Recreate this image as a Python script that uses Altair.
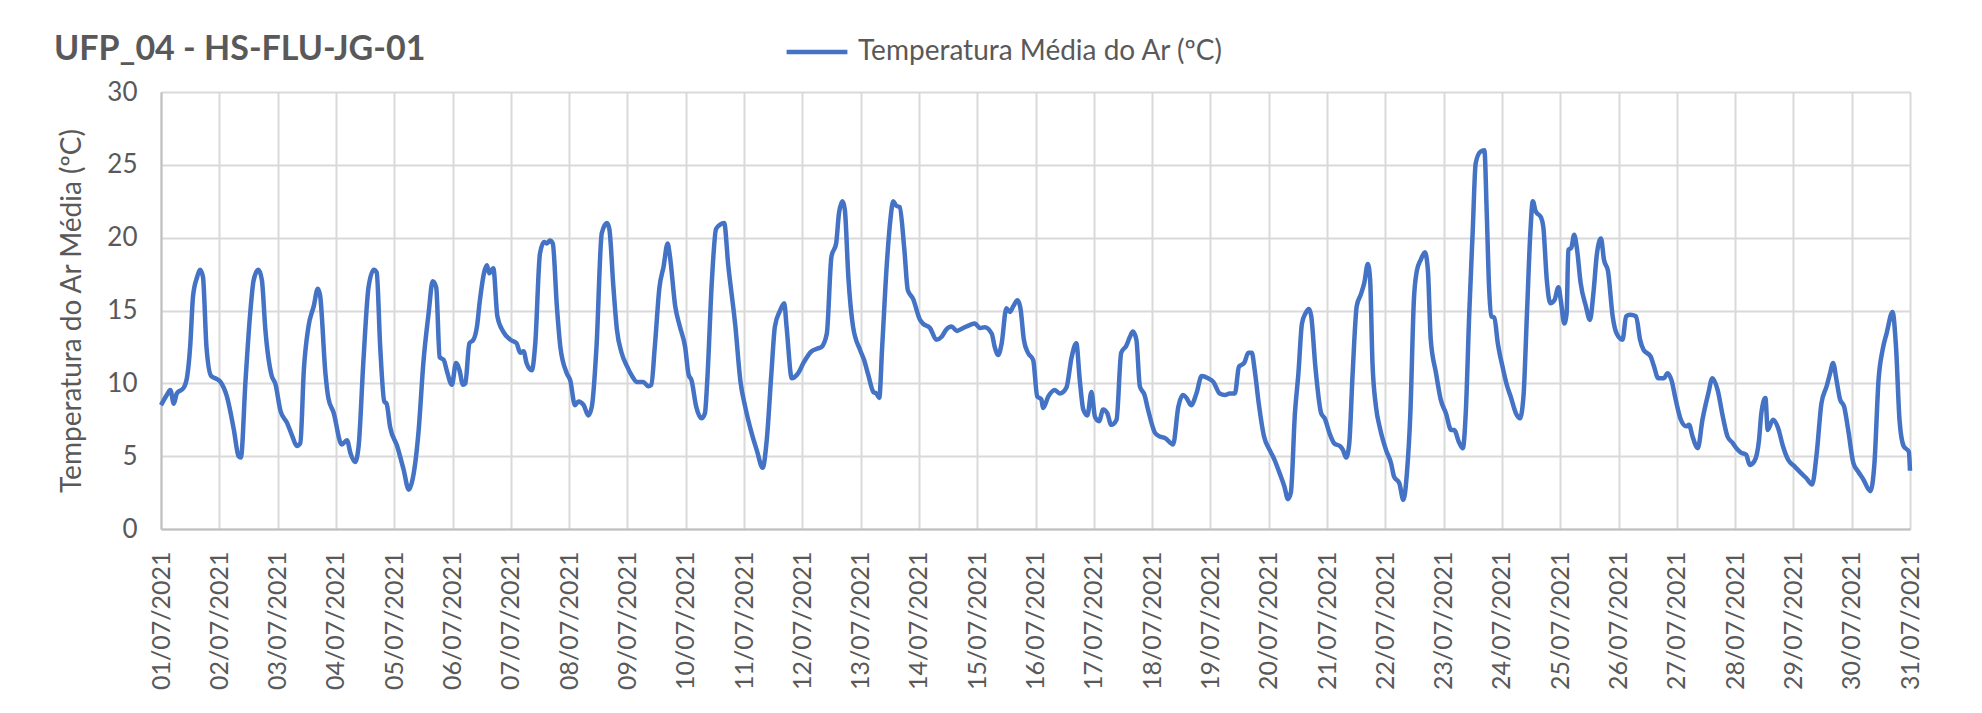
import altair as alt
import pandas as pd

series_name = "Temperatura Média do Ar (ºC)"
chart_title = "UFP_04 - HS-FLU-JG-01"
y_title = "Temperatura do Ar Média (ºC)"

# time in days since 01/07/2021 00:00
day_offsets = [
    0.00, 0.10, 0.16, 0.22, 0.27, 0.39, 0.45, 0.50, 0.55, 0.62, 0.67, 0.72, 0.78, 0.86, 0.93,
    1.02, 1.13, 1.25, 1.33, 1.37, 1.45, 1.53, 1.59, 1.67, 1.73, 1.79, 1.90, 1.96,
    2.05, 2.16, 2.25, 2.33, 2.39, 2.45, 2.53, 2.62, 2.69, 2.73, 2.82, 2.87, 2.96,
    3.10, 3.19, 3.25, 3.33, 3.39, 3.47, 3.56, 3.65, 3.70, 3.76, 3.83, 3.87, 3.93,
    4.05, 4.16, 4.25, 4.32, 4.42, 4.50, 4.59, 4.66, 4.72, 4.78, 4.85, 4.90, 4.99,
    5.06, 5.12, 5.18, 5.22, 5.29, 5.36, 5.42, 5.47, 5.59, 5.63, 5.70, 5.77, 5.87, 5.99,
    6.10, 6.16, 6.22, 6.27, 6.36, 6.42, 6.50, 6.57, 6.62, 6.67, 6.72, 6.79, 6.85, 6.96,
    7.02, 7.10, 7.16, 7.25, 7.33, 7.39, 7.47, 7.56, 7.65, 7.69, 7.76, 7.82, 7.90, 7.99,
    8.08, 8.16, 8.27, 8.36, 8.41, 8.47, 8.55, 8.62, 8.69, 8.73, 8.82, 8.90, 8.99,
    9.05, 9.10, 9.18, 9.27, 9.33, 9.37, 9.45, 9.52, 9.59, 9.66, 9.73, 9.85, 9.94,
    10.02, 10.13, 10.22, 10.32, 10.39, 10.47, 10.53, 10.62, 10.69, 10.73, 10.82, 10.93,
    11.02, 11.16, 11.27, 11.33, 11.42, 11.50, 11.58, 11.63, 11.69, 11.73, 11.79, 11.87, 11.99,
    12.06, 12.13, 12.22, 12.27, 12.32, 12.37, 12.45, 12.51, 12.56, 12.61, 12.67, 12.75, 12.81, 12.90,
    13.02, 13.07, 13.19, 13.30, 13.39, 13.47, 13.56, 13.65, 13.76, 13.87, 13.96,
    14.05, 14.13, 14.25, 14.30, 14.36, 14.42, 14.50, 14.56, 14.62, 14.69, 14.74, 14.80, 14.87, 14.96,
    15.03, 15.10, 15.13, 15.22, 15.33, 15.42, 15.53, 15.62, 15.70, 15.76, 15.82, 15.89, 15.96,
    16.02, 16.09, 16.16, 16.23, 16.30, 16.39, 16.47, 16.56, 16.62, 16.67, 16.73, 16.79, 16.87, 16.93,
    17.05, 17.13, 17.22, 17.36, 17.45, 17.53, 17.59, 17.67, 17.76, 17.85, 17.96,
    18.05, 18.16, 18.25, 18.33, 18.42, 18.49, 18.58, 18.65, 18.71, 18.76, 18.83, 18.92,
    19.02, 19.10, 19.19, 19.27, 19.33, 19.38, 19.45, 19.51, 19.57, 19.63, 19.69, 19.73, 19.80, 19.90, 19.96,
    20.05, 20.13, 20.22, 20.27, 20.33, 20.38, 20.44, 20.51, 20.58, 20.64, 20.70, 20.74, 20.78, 20.84, 20.91,
    21.01, 21.10, 21.15, 21.24, 21.31, 21.37, 21.43, 21.49, 21.54, 21.61, 21.68, 21.73, 21.78, 21.87, 21.95,
    22.04, 22.13, 22.18, 22.27, 22.33, 22.38, 22.44, 22.50, 22.55, 22.63, 22.70, 22.74, 22.78, 22.82, 22.87, 22.93,
    23.01, 23.09, 23.15, 23.24, 23.31, 23.37, 23.43, 23.49, 23.53, 23.58, 23.67, 23.71, 23.77, 23.83, 23.90, 23.97,
    24.01, 24.07, 24.11, 24.14, 24.19, 24.24, 24.29, 24.35, 24.44, 24.51, 24.57, 24.63, 24.70, 24.75, 24.82, 24.90, 24.97,
    25.07, 25.13, 25.20, 25.30, 25.37, 25.43, 25.55, 25.61, 25.68, 25.78, 25.84, 25.91, 25.98,
    26.07, 26.16, 26.21, 26.27, 26.36, 26.44, 26.54, 26.61, 26.70, 26.79, 26.87, 26.96,
    27.02, 27.10, 27.19, 27.25, 27.33, 27.41, 27.45, 27.52, 27.56, 27.65, 27.74, 27.82, 27.91,
    28.02, 28.14, 28.22, 28.32, 28.40, 28.48, 28.57, 28.63, 28.68, 28.74, 28.80, 28.87, 28.94,
    29.03, 29.11, 29.20, 29.32, 29.39, 29.46, 29.53, 29.60, 29.70, 29.76, 29.82, 29.89, 29.98, 30.00,
]

temperatures = [
    8.5, 9.2, 9.55, 8.6, 9.3, 9.7, 10.5, 12.5, 16.0, 17.3, 17.8, 17.3, 12.5, 10.5, 10.35,
    10.1, 9.1, 6.8, 5.0, 4.9, 10.2, 14.8, 17.1, 17.8, 17.1, 13.7, 10.5, 10.0,
    8.1, 7.3, 6.4, 5.7, 5.9, 10.9, 13.9, 15.3, 16.5, 16.0, 10.7, 9.0, 8.0,
    5.8, 6.1, 5.2, 4.6, 5.7, 11.4, 16.6, 17.8, 17.6, 12.5, 8.75, 8.6, 7.0,
    5.7, 4.1, 2.7, 3.5, 6.8, 11.4, 14.8, 17.0, 16.6, 11.8, 11.6, 10.9, 9.9,
    11.4, 10.9, 9.9, 10.0, 12.75, 13.0, 13.9, 15.7, 18.1, 17.55, 17.9, 14.6, 13.55, 13.0,
    12.75, 12.1, 12.2, 11.4, 10.9, 12.75, 18.9, 19.7, 19.6, 19.8, 19.6, 15.3, 12.5, 10.7,
    10.2, 8.5, 8.75, 8.5, 7.8, 8.4, 12.5, 20.3, 21.0, 20.6, 16.6, 13.7, 12.1, 11.2,
    10.5, 10.1, 10.1, 9.8, 9.9, 12.5, 16.6, 18.0, 19.6, 18.7, 15.3, 13.9, 12.5,
    10.6, 10.2, 8.4, 7.6, 7.95, 10.2, 17.1, 20.6, 20.9, 21.0, 18.1, 14.0, 10.1,
    8.4, 6.6, 5.4, 4.2, 6.1, 10.7, 13.9, 15.0, 15.5, 13.9, 10.35, 10.7,
    11.4, 12.2, 12.4, 12.5, 13.4, 18.7, 19.6, 21.7, 22.5, 21.9, 17.3, 13.9, 12.3,
    11.6, 10.6, 9.4, 9.3, 9.0, 12.5, 18.2, 21.2, 22.5, 22.2, 22.1, 19.2, 16.4, 15.8,
    14.35, 14.1, 13.8, 13.0, 13.2, 13.7, 13.9, 13.6, 13.8, 14.0, 14.1,
    13.8, 13.85, 13.4, 12.5, 11.95, 12.75, 15.15, 14.9, 15.3, 15.7, 15.2, 13.0, 12.1, 11.6,
    9.1, 8.9, 8.3, 9.1, 9.55, 9.3, 9.7, 11.8, 12.75, 10.2, 8.2, 7.8, 9.4,
    7.7, 7.4, 8.2, 7.95, 7.15, 7.5, 12.1, 12.6, 13.2, 13.55, 13.0, 9.8, 9.2, 8.2,
    6.6, 6.35, 6.25, 5.8, 8.4, 9.2, 9.0, 8.5, 9.3, 10.5, 10.35,
    10.1, 9.3, 9.2, 9.3, 9.3, 11.15, 11.4, 12.1, 12.1, 10.9, 8.6, 6.35,
    5.4, 4.75, 3.8, 2.9, 2.05, 2.5, 7.95, 10.7, 14.1, 14.8, 15.1, 14.6, 11.15, 7.95, 7.6,
    6.5, 5.85, 5.7, 5.45, 4.9, 5.8, 10.7, 15.3, 16.1, 16.9, 18.2, 17.1, 11.4, 8.4, 6.9,
    5.45, 4.5, 3.6, 3.15, 2.0, 3.8, 7.95, 15.7, 17.7, 18.5, 19.0, 17.8, 13.0, 10.7, 8.9,
    7.95, 6.8, 6.8, 5.9, 5.55, 7.95, 14.8, 20.5, 25.1, 25.9, 26.0, 21.7, 16.6, 14.6, 14.5, 12.75,
    11.15, 9.8, 9.1, 7.95, 7.6, 9.1, 14.8, 20.5, 22.5, 21.8, 21.4, 20.75, 17.1, 15.5, 15.7, 16.6,
    15.7, 14.1, 14.8, 19.15, 19.3, 20.2, 19.15, 16.9, 15.3, 14.35, 16.2, 18.9, 19.95, 18.5, 17.7, 14.6, 13.4,
    13.0, 14.6, 14.7, 14.6, 13.0, 12.3, 11.85, 11.15, 10.35, 10.35, 10.7, 10.2, 8.9,
    7.5, 7.05, 7.15, 6.35, 5.55, 7.5, 9.3, 10.35, 9.55, 7.7, 6.35, 5.9,
    5.55, 5.25, 5.1, 4.4, 4.65, 6.1, 7.95, 9.0, 6.8, 7.5, 6.9, 5.7, 4.75,
    4.3, 3.8, 3.5, 3.05, 5.2, 8.6, 9.8, 10.7, 11.4, 10.2, 8.9, 8.4, 6.8,
    4.5, 3.95, 3.4, 2.6, 4.5, 10.2, 12.3, 13.45, 14.9, 12.5, 7.5, 5.7, 5.3, 4.0,
]

label_days = list(range(1, 32))
y_ticks = [0, 5, 10, 15, 20, 25, 30]

start = pd.Timestamp("2021-07-01")
df = pd.DataFrame({
    "time": [start + pd.Timedelta(days=d) for d in day_offsets],
    "temp": temperatures,
    "series": series_name,
})

W, H = 1749, 437
GREY_TXT = "#595959"
FONT = "Lato"

x_axis = alt.Axis(
    values=[alt.DateTime(year=2021, month=7, date=d) for d in label_days],
    format="%d/%m/%Y",
    labelAngle=270,
    labelOverlap=False,
    labelFlush=False,
    labelPadding=22,
    labelFontSize=25,
    labelColor=GREY_TXT,
    labelFont=FONT,
    ticks=False,
    grid=True,
    gridColor="#D9D9D9",
    gridWidth=2,
    domainColor="#BFBFBF",
    domainWidth=2,
    title=None,
)

y_axis = alt.Axis(
    values=y_ticks,
    labelPadding=24,
    labelFontSize=26,
    labelColor=GREY_TXT,
    labelFont=FONT,
    ticks=False,
    grid=True,
    gridColor="#D9D9D9",
    gridWidth=2,
    domainColor="#BFBFBF",
    domainWidth=2,
    title=y_title,
    titleFont=FONT,
    titleFontSize=28,
    titleFontWeight="normal",
    titleColor=GREY_TXT,
    titleAngle=270,
    titleX=-89,
    titleY=H / 2,
    titleAlign="center",
    titleBaseline="middle",
)

chart = (
    alt.Chart(df)
    .mark_line(strokeWidth=4.5, interpolate="monotone")
    .encode(
        x=alt.X(
            "time:T",
            scale=alt.Scale(domain=[alt.DateTime(year=2021, month=7, date=1),
                                    alt.DateTime(year=2021, month=7, date=31)]),
            axis=x_axis,
        ),
        y=alt.Y("temp:Q", scale=alt.Scale(domain=[0, 30]), axis=y_axis),
        color=alt.Color(
            "series:N",
            scale=alt.Scale(range=["#4472C4"]),
            legend=alt.Legend(
                title=None,
                orient="none",
                legendX=623,
                legendY=-73,
                symbolType="stroke",
                symbolSize=3700,
                symbolStrokeWidth=4.5,
                labelFontSize=28,
                labelFont=FONT,
                labelColor=GREY_TXT,
                labelOffset=8,
                labelLimit=800,
                padding=0,
            ),
        ),
    )
    .properties(
        width=W,
        height=H,
        title=alt.TitleParams(
            chart_title,
            anchor="start",
            frame="group",
            font=FONT,
            fontSize=34,
            fontWeight="bold",
            color=GREY_TXT,
            dx=-107,
            dy=52,
        ),
        padding={"left": 153, "top": 84, "right": 56, "bottom": 170},
        autosize=alt.AutoSizeParams(type="none"),
    )
    .configure_view(stroke="#D9D9D9", strokeWidth=2)
    .configure(font=FONT, background="white")
)

chart.save("out.html", embed_options={"renderer": "svg", "actions": False})
